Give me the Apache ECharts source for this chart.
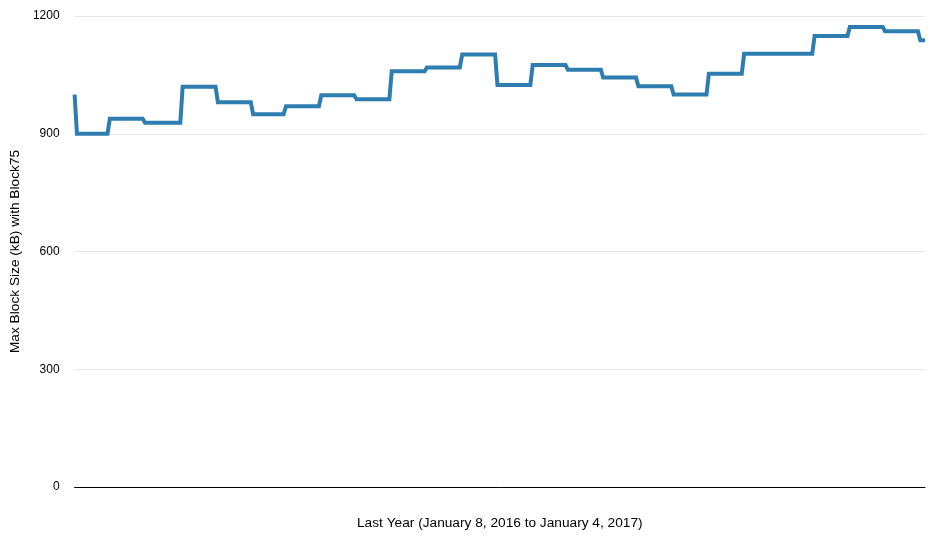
<!DOCTYPE html>
<html lang="en">
<head>
    <meta charset="UTF-8">
    <title>Block75 max block size</title>
    <script src="https://cdn.jsdelivr.net/npm/echarts@6/dist/echarts.min.js"></script>
    <style>
        * { padding: 0; margin: 0; }
        body { background: #fff; }
    </style>
</head>
<body>
<div id="chart" style="width: 943px;height:550px;"></div>
<script>
    // first day of the chart and its last day
    var startDate = Date.UTC(2016, 0, 8);
    var endDay = 362; // January 4, 2017

    // day (counted from startDate) on which each level begins, and the level in kB
    var levelStartDays = [0, 1, 15, 30, 46, 61, 76, 90, 105, 120, 135, 150, 165, 180, 195, 210, 225, 240, 255, 270, 285, 315, 330, 345, 360];
    var levelValues = [1000, 900, 938, 928, 1020, 980, 950, 970, 998, 988, 1059, 1069, 1102, 1024, 1075, 1063, 1043, 1021, 1000, 1053, 1104, 1149, 1172, 1161, 1138];

    var yTicks = [0, 300, 600, 900, 1200];

    var DAY = 24 * 3600 * 1000;
    var points = [];
    levelStartDays.forEach(function (d, i) {
        var next = i + 1 < levelStartDays.length ? levelStartDays[i + 1] - 1 : endDay;
        points.push([startDate + d * DAY, levelValues[i]]);
        if (next > d) points.push([startDate + next * DAY, levelValues[i]]);
    });

    var chart = echarts.init(document.getElementById('chart'));
    var font = 'Liberation Sans, Arial, Helvetica, sans-serif';
    chart.setOption({
        animation: false,
        grid: { left: 73, right: 18, top: 16, bottom: 63 },
        xAxis: {
            type: 'time',
            min: startDate,
            max: startDate + endDay * DAY,
            name: 'Last Year (January 8, 2016 to January 4, 2017)',
            nameLocation: 'middle',
            nameGap: 29,
            nameTextStyle: { color: '#000', fontSize: 13.7, fontFamily: font },
            axisLine: { lineStyle: { color: '#000', width: 1 } },
            axisTick: { show: false },
            axisLabel: { show: false },
            splitLine: { show: false }
        },
        yAxis: {
            type: 'value',
            min: yTicks[0],
            max: yTicks[yTicks.length - 1],
            interval: 300,
            name: 'Max Block Size (kB) with Block75',
            nameLocation: 'middle',
            nameGap: 49,
            nameTextStyle: { color: '#000', fontSize: 13.7, fontFamily: font },
            axisLine: { show: false },
            axisTick: { show: false },
            axisLabel: { color: '#000', fontSize: 12, fontFamily: font, margin: 15,
                formatter: function (v) { return String(v); } },
            splitLine: { lineStyle: { color: '#e6e6e6', width: 1 } }
        },
        series: [{
            type: 'line',
            data: points,
            symbol: 'none',
            lineStyle: { color: '#2e7db0', width: 4, join: 'miter' }
        }]
    });
</script>
</body>
</html>
